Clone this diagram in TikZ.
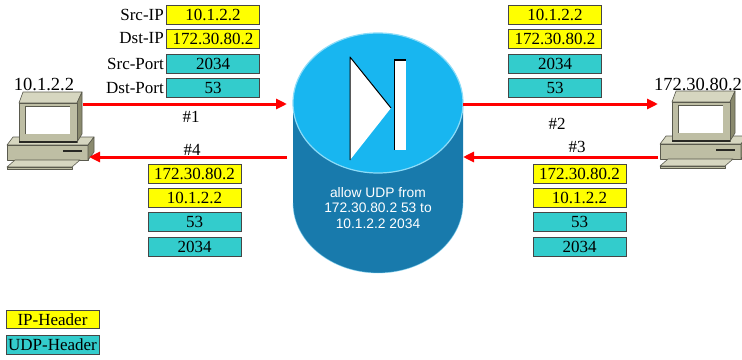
\documentclass[tikz,border=0pt]{standalone}
\usepackage{fontspec}
\setmainfont{Liberation Serif}
\newfontfamily\rulesans{Liberation Sans}
\usetikzlibrary{arrows.meta}

\definecolor{ipyellow}{RGB}{255,255,0}
\definecolor{udpcyan}{RGB}{51,204,204}
\definecolor{boxedge}{RGB}{70,70,70}
\definecolor{fwtop}{RGB}{24,182,240}
\definecolor{fwrim}{RGB}{140,220,248}
\definecolor{fwbody}{RGB}{24,122,172}
\definecolor{pcfront}{RGB}{190,190,164}
\definecolor{pctopc}{RGB}{214,214,192}
\definecolor{pcsidec}{RGB}{138,138,110}
\definecolor{pcline}{RGB}{90,90,78}
\definecolor{pcdark}{RGB}{40,40,36}

\tikzset{
  txt/.style={font=\fontsize{17}{19}\selectfont, inner sep=0pt},
  hostname/.style={font=\fontsize{18.5}{20}\selectfont, inner sep=0pt},
  field/.style={txt, draw=boxedge, line width=0.8pt, minimum width=93pt,
                minimum height=19pt},
  ipfield/.style={field, fill=ipyellow},
  udpfield/.style={field, fill=udpcyan},
  fieldname/.style={txt, anchor=east},
  flow/.style={draw=red, line width=3pt, -{Triangle[length=11pt,width=10pt]}},
  pcface/.style={draw=pcline, line width=0.6pt, line join=round},
  % desktop computer: system unit, keyboard and monitor
  pc/.pic={
    \filldraw[pcface, fill=pctopc] (7,145) -- (13,137) -- (94,137) -- (88,145) -- cycle;
    \filldraw[pcface, fill=pcfront] (7,145) rectangle (88,160);
    \filldraw[pcface, fill=pcsidec] (88,145) -- (94,137) -- (94,152) -- (88,160) -- cycle;
    \draw[pcdark, line width=1.4pt] (63,151) -- (82,151);
    \filldraw[pcface, fill=pctopc] (7,167) -- (15,160) -- (80,160) -- (72,167) -- cycle;
    \filldraw[pcface, fill=pcfront] (7,167) rectangle (72,169.5);
    \filldraw[pcface, fill=pctopc] (19,103) -- (23,92) -- (82,92) -- (77,103) -- cycle;
    \filldraw[pcface, fill=pcsidec] (77,103) -- (82,92) -- (82,134) -- (77,142) -- cycle;
    \filldraw[pcface, fill=pcfront] (19,103) rectangle (77,142);
    \draw[pcdark, line width=1.4pt] (19,142) -- (77,142);
    \fill[white] (25,106) rectangle (70,134);
    \draw[pcline, line width=1pt] (25,134) -- (25,106) -- (70,106);
  }
}

\begin{document}
\begin{tikzpicture}[x=1pt, y=-1pt]
\useasboundingbox (0,0) rectangle (742,359);

% hosts
\pic (pcL) at (0,0) {pc};
\pic (pcR) at (653,-1) {pc};
\node[hostname] (pcLname) at (44,84) {10.1.2.2};
\node[hostname] (pcRname) at (698,84) {172.30.80.2};

% firewall cylinder
\fill[fwbody] (293,103) -- (293,203)
  arc[start angle=180, end angle=0, x radius=85, y radius=70] -- (463,103) -- cycle;
\draw[fwrim, opacity=0.5, line width=0.8pt] (293,203)
  arc[start angle=180, end angle=0, x radius=85, y radius=70];
\filldraw[fill=fwtop, draw=fwrim, line width=1.2pt] (378,103) ellipse [x radius=85, y radius=70];
% firewall symbol
\fill[white] (350,57) -- (391,108) -- (350,160) -- cycle;
\draw[black, line width=1pt, line join=round] (350,160) -- (350,57) -- (391,108);
\fill[white] (394,59) rectangle (406,150);
\draw[black, line width=1pt] (394.5,150) -- (394.5,59.5) -- (406,59.5);
\draw[black, line width=2pt] (394,60) -- (406,60);
\node[font=\rulesans\fontsize{13.8}{15.5}\selectfont, text=white, align=center,
      inner sep=0pt] (fwrule) at (378,208)
  {allow UDP from\\172.30.80.2 53 to\\10.1.2.2 2034};

% connector end points
\coordinate (pcL-tx) at (83,104);
\coordinate (fw-inL) at (287,104);
\coordinate (fw-outR) at (463,104);
\coordinate (pcR-rx) at (658,104);
\coordinate (pcR-tx) at (658,157);
\coordinate (fw-inR) at (463,157);
\coordinate (fw-outL) at (287,157);
\coordinate (pcL-rx) at (89,157);

\draw[flow] (pcL-tx) -- (fw-inL);
\draw[flow] (fw-outR) -- (pcR-rx);
\draw[flow] (pcR-tx) -- (fw-inR);
\draw[flow] (fw-outL) -- (pcL-rx);

\node[txt] (n1) at (191,117) {\#1};
\node[txt] (n2) at (557,124) {\#2};
\node[txt] (n3) at (577,147) {\#3};
\node[txt] (n4) at (192,150) {\#4};

% header field names
\node[fieldname] (lSrcIP) at (164,14.5) {Src-IP};
\node[fieldname] (lDstIP) at (164,38.5) {Dst-IP};
\node[fieldname] (lSrcPort) at (164,63.5) {Src-Port};
\node[fieldname] (lDstPort) at (164,88) {Dst-Port};

% packet 1
\node[ipfield]  (p1a) at (213,14.5) {10.1.2.2};
\node[ipfield]  (p1b) at (213,38.5) {172.30.80.2};
\node[udpfield] (p1c) at (213,63.5) {2034};
\node[udpfield] (p1d) at (213,88) {53};
% packet 2
\node[ipfield]  (p2a) at (555,14.5) {10.1.2.2};
\node[ipfield]  (p2b) at (555,38.5) {172.30.80.2};
\node[udpfield] (p2c) at (555,63.5) {2034};
\node[udpfield] (p2d) at (555,88) {53};
% packet 4
\node[ipfield]  (p4a) at (194.5,173.5) {172.30.80.2};
\node[ipfield]  (p4b) at (194.5,198) {10.1.2.2};
\node[udpfield] (p4c) at (194.5,222) {53};
\node[udpfield] (p4d) at (194.5,247) {2034};
% packet 3
\node[ipfield]  (p3a) at (579.5,173.5) {172.30.80.2};
\node[ipfield]  (p3b) at (579.5,198) {10.1.2.2};
\node[udpfield] (p3c) at (579.5,222) {53};
\node[udpfield] (p3d) at (579.5,247) {2034};

% legend
\node[ipfield, minimum height=18pt]  (legIP)  at (52.5,319.5) {IP-Header};
\node[udpfield] (legUDP) at (52.5,344.5) {UDP-Header};
\end{tikzpicture}
\end{document}
